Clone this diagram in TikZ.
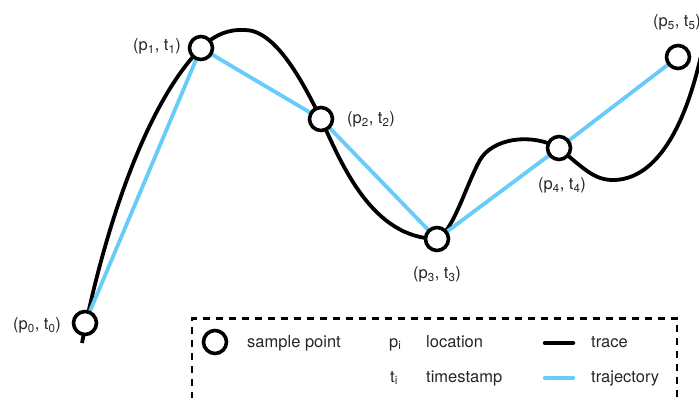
\documentclass[tikz,border=0pt]{standalone}
\usepackage{fontspec}
\setmainfont{TeX Gyre Heros}
\begin{document}
\begin{tikzpicture}[x=1pt,y=-1pt,
  font=\fontsize{16.5}{19}\selectfont,
  trace/.style={line width=3.8pt, black},
  traj/.style={line width=3.8pt, color=skyb},
  sample/.style={circle, draw=black, fill=white, line width=3.6pt, minimum size=23pt, inner sep=0pt},
  lbl/.style={anchor=base west, inner sep=0pt, text=black!85}]
\definecolor{skyb}{RGB}{104,204,250}
\useasboundingbox (0,0) rectangle (699,398);
% sample points (coordinates)
\coordinate (c0) at (85,323);
\coordinate (c1) at (201,48);
\coordinate (c2) at (321,119);
\coordinate (c3) at (437,239);
\coordinate (c4) at (559,148);
\coordinate (c5) at (678,57);
\coordinate (tstart) at (82,343);
\coordinate (tpeak) at (245,30);
\coordinate (tmid) at (480,160);
\coordinate (tlow) at (613,180);
\coordinate (tend) at (708,20);
% trace
\draw[trace] (tstart) .. controls (100,250) and (140,110) .. (c1)
  .. controls (215,34) and (230,29) .. (tpeak)
  .. controls (275,30) and (302,80) .. (c2)
  .. controls (342,165) and (372,238) .. (c3);
\draw[trace] (c3) .. controls (453,232) and (466,185) .. (tmid)
  .. controls (492,139) and (530,132) .. (c4)
  .. controls (585,170) and (595,180) .. (tlow)
  .. controls (650,180) and (688,140) .. (tend);
% trajectory
\draw[traj, line join=round] (c0) -- (c1) -- (c2) -- (c3) -- (c4) -- (c5);
% circles
\foreach \i in {0,...,5} \node[sample] (s\i) at (c\i) {};
% labels
\node[lbl] (l0) at (13,329.5) {(p\textsubscript{0}, t\textsubscript{0})};
\node[lbl] (l1) at (133,50.5) {(p\textsubscript{1}, t\textsubscript{1})};
\node[lbl] (l2) at (347,123.5) {(p\textsubscript{2}, t\textsubscript{2})};
\node[lbl] (l3) at (413,278.5) {(p\textsubscript{3}, t\textsubscript{3})};
\node[lbl] (l4) at (538,189.5) {(p\textsubscript{4}, t\textsubscript{4})};
\node[lbl] (l5) at (653,27) {(p\textsubscript{5}, t\textsubscript{5})};
% legend
\draw[line width=2.2pt, dash pattern=on 7pt off 6pt] (192,412) -- (192,318.5) -- (677,318.5) -- (677,412);
\node[sample] (lgc) at (215,342) {};
\node[lbl] (lg1) at (247,347) {sample point};
\node[lbl] (lg2) at (389,347) {p\textsubscript{i}};
\node[lbl] (lg3) at (426,347) {location};
\node[lbl] (lg4) at (390,382) {t\textsubscript{i}};
\node[lbl] (lg5) at (426,382) {timestamp};
\coordinate (ta) at (545,343); \coordinate (tb) at (573,343);
\coordinate (ua) at (545,378); \coordinate (ub) at (573,378);
\draw[trace, line width=4.5pt, line cap=round] (ta) -- (tb);
\draw[traj, line width=4.5pt, line cap=round] (ua) -- (ub);
\node[lbl] (lg6) at (591,347) {trace};
\node[lbl] (lg7) at (591,382) {trajectory};
\end{tikzpicture}
\end{document}
